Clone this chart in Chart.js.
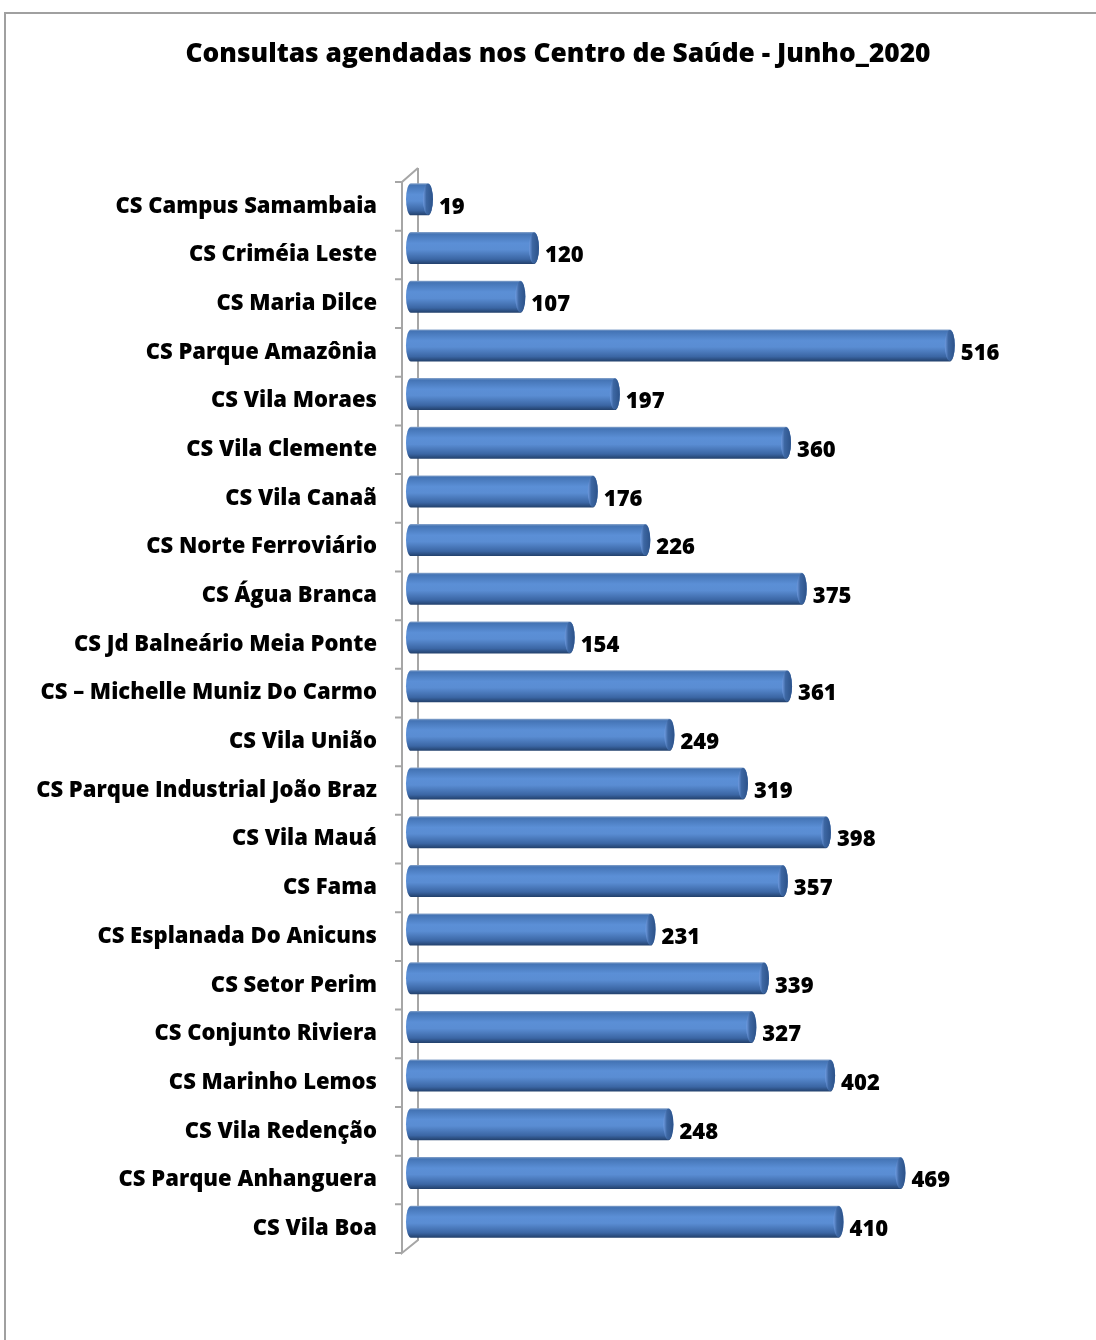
<!DOCTYPE html>
<html>
<head>
<meta charset="utf-8">
<script src="https://cdn.jsdelivr.net/npm/chart.js@4.4.1/dist/chart.umd.min.js"></script>
<style>
  html, body { margin: 0; padding: 0; background: #fff; overflow: hidden; }
  #wrap { position: relative; width: 1096px; height: 1340px; }
  #frame { position: absolute; left: 4px; top: 12px; width: 1200px; height: 1400px;
           border-left: 2px solid #a0a0a0; border-top: 2px solid #a0a0a0; }
  canvas { position: absolute; left: 0; top: 0; }
</style>
</head>
<body>
<div id="wrap">
  <div id="frame"></div>
  <canvas id="myChart" width="1096" height="1340"></canvas>
</div>
<script>
"use strict";

// Dados do gráfico
const titulo = 'Consultas agendadas nos Centro de Saúde - Junho_2020';
const centros = [
    'CS Campus Samambaia', 'CS Criméia Leste', 'CS Maria Dilce', 'CS Parque Amazônia',
    'CS Vila Moraes', 'CS Vila Clemente', 'CS Vila Canaã', 'CS Norte Ferroviário',
    'CS Água Branca', 'CS Jd Balneário Meia Ponte', 'CS – Michelle Muniz Do Carmo',
    'CS Vila União', 'CS Parque Industrial João Braz', 'CS Vila Mauá', 'CS Fama',
    'CS Esplanada Do Anicuns', 'CS Setor Perim', 'CS Conjunto Riviera', 'CS Marinho Lemos',
    'CS Vila Redenção', 'CS Parque Anhanguera', 'CS Vila Boa'
];
const consultas = [19, 120, 107, 516, 197, 360, 176, 226, 375, 154, 361, 249, 319, 398, 357, 231, 339, 327, 402, 248, 469, 410];

const FONTE = '"Open Sans"';

// Título (centrado no quadro do gráfico, não no canvas)
const tituloPlugin = {
    id: 'tituloPlugin',
    afterDraw(chart) {
        const { ctx } = chart;
        ctx.save();
        ctx.fillStyle = '#000';
        ctx.font = '800 26.3px ' + FONTE;
        ctx.textAlign = 'center';
        ctx.textBaseline = 'middle';
        ctx.fillText(titulo, 558, 55);
        ctx.restore();
    }
};

// Parede do eixo vertical em "3D"
const paredeEixo = {
    id: 'paredeEixo',
    beforeDatasetsDraw(chart) {
        const { ctx, chartArea } = chart;
        const xf = chartArea.left - 11, xb = chartArea.left + 5;
        const top = chartArea.top, bot = chartArea.bottom;
        ctx.save();
        ctx.strokeStyle = '#a6a6a6';
        ctx.lineWidth = 2;
        ctx.beginPath();
        ctx.moveTo(xb, top - 14);
        ctx.lineTo(xb, bot - 13);
        ctx.lineTo(xf, bot);
        ctx.lineTo(xf, top);
        ctx.lineTo(xb, top - 14);
        // marcas entre categorias
        const n = centros.length;
        const passo = (bot - top) / n;
        for (let i = 0; i <= n; i++) {
            const y = top + i * passo;
            ctx.moveTo(xf - 7, y);
            ctx.lineTo(xf, y);
        }
        ctx.stroke();
        ctx.restore();
    }
};

// Barras em forma de cilindro
const cilindros = {
    id: 'cilindros',
    afterDatasetsDraw(chart) {
        const { ctx } = chart;
        const meta = chart.getDatasetMeta(0);
        meta.data.forEach((bar, i) => {
            const h = bar.height;
            const cy = bar.y - 7;
            const t = cy - h / 2, b = cy + h / 2;
            const rx = 5;
            const xl = bar.base - 2;
            const xr = bar.x - rx;

            const g = ctx.createLinearGradient(0, t, 0, b);
            g.addColorStop(0, '#8aa6cc');
            g.addColorStop(0.06, '#4474b5');
            g.addColorStop(0.35, '#5b8fd6');
            g.addColorStop(0.55, '#5a8dd3');
            g.addColorStop(0.85, '#3b66a4');
            g.addColorStop(1, '#22406b');

            ctx.save();
            ctx.beginPath();
            ctx.moveTo(xl, t);
            ctx.lineTo(xr, t);
            ctx.ellipse(xr, cy, rx, h / 2, 0, -Math.PI / 2, Math.PI / 2);
            ctx.lineTo(xl, b);
            ctx.ellipse(xl, cy, rx, h / 2, 0, Math.PI / 2, Math.PI * 1.5);
            ctx.closePath();
            ctx.fillStyle = g;
            ctx.fill();

            // tampa
            ctx.beginPath();
            ctx.ellipse(xr, cy, rx, h / 2 - 0.5, 0, 0, Math.PI * 2);
            const gc = ctx.createLinearGradient(xr - rx, 0, xr + rx, 0);
            gc.addColorStop(0, '#6f9be0');
            gc.addColorStop(0.35, '#3d67a3');
            gc.addColorStop(1, '#2c5289');
            ctx.fillStyle = gc;
            ctx.fill();
            ctx.restore();

            // valor
            ctx.save();
            ctx.fillStyle = '#000';
            ctx.font = '800 22px ' + FONTE;
            ctx.textBaseline = 'middle';
            ctx.textAlign = 'left';
            ctx.fillText(String(consultas[i]), bar.x + 6, bar.y + 1);
            ctx.restore();
        });
    }
};

const ctx = document.getElementById('myChart');

new Chart(ctx, {
    type: 'bar',
    data: {
        labels: centros,
        datasets: [{
            label: 'Consultas',
            data: consultas,
            backgroundColor: 'rgba(0,0,0,0)',
            borderWidth: 0,
            barThickness: 32
        }]
    },
    options: {
        indexAxis: 'y',
        responsive: false,
        animation: false,
        layout: { padding: { top: 182, bottom: 87, left: 0, right: 53 } },
        plugins: {
            legend: { display: false },
            tooltip: { enabled: false },
            title: { display: false }
        },
        scales: {
            x: { display: false, min: 0, max: 600 },
            y: {
                grid: { display: false, drawTicks: false },
                border: { display: false },
                ticks: {
                    color: '#000',
                    padding: 36,
                    font: { family: FONTE, size: 22, weight: 800 }
                },
                afterFit(scale) { scale.width = 413; }
            }
        }
    },
    plugins: [paredeEixo, cilindros, tituloPlugin]
});
</script>
</body>
</html>
